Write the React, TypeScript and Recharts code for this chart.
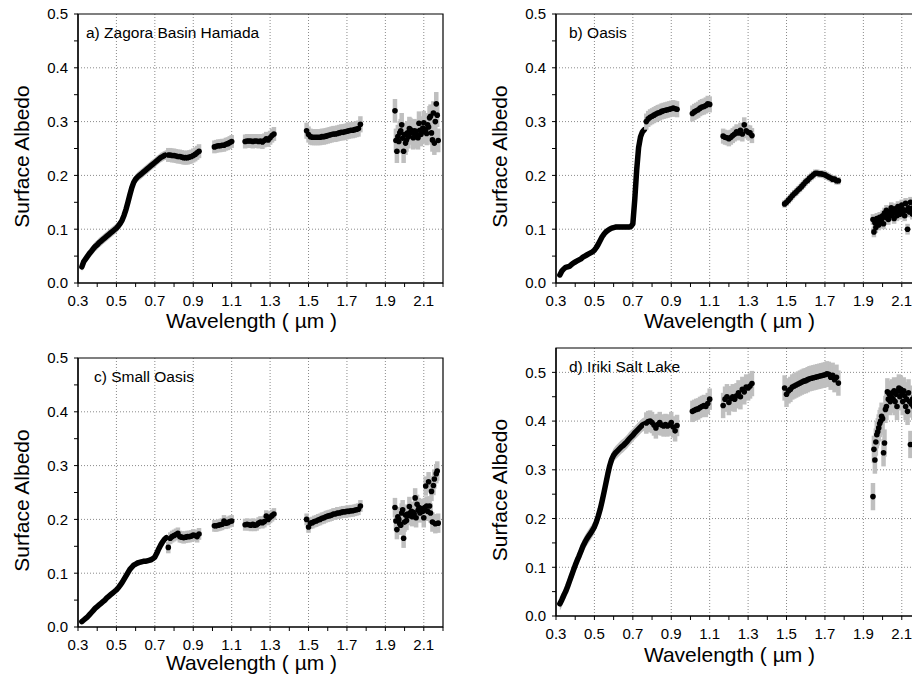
import {
  ComposedChart,
  Line,
  Area,
  Scatter,
  ErrorBar,
  XAxis,
  YAxis,
  CartesianGrid,
  ReferenceArea,
  Label,
} from "recharts";

// wavelength grids (µm), one per spectral window
const w1 = [
  0.32, 0.33, 0.34, 0.35, 0.36, 0.37, 0.38, 0.39, 0.4, 0.41,
  0.42, 0.43, 0.44, 0.45, 0.46, 0.47, 0.48, 0.49, 0.5, 0.51,
  0.52, 0.53, 0.54, 0.55, 0.56, 0.57, 0.58, 0.59, 0.6, 0.61,
  0.62, 0.63, 0.64, 0.65, 0.66, 0.67, 0.68, 0.69, 0.7, 0.71,
  0.72, 0.73, 0.74, 0.75, 0.76,
];
const w2 = [0.77, 0.78, 0.79, 0.8, 0.81, 0.82, 0.83, 0.84, 0.85, 0.86, 0.87, 0.88, 0.89, 0.9, 0.91, 0.92, 0.93];
const w3 = [1.01, 1.02, 1.03, 1.04, 1.05, 1.06, 1.07, 1.08, 1.09, 1.1];
const w4 = [1.17, 1.18, 1.19, 1.2, 1.21, 1.22, 1.23, 1.24, 1.25, 1.26, 1.27, 1.28, 1.29, 1.3, 1.31, 1.32];
const w5 = [
  1.49, 1.5, 1.51, 1.52, 1.53, 1.54, 1.55, 1.56, 1.57, 1.58,
  1.59, 1.6, 1.61, 1.62, 1.63, 1.64, 1.65, 1.66, 1.67, 1.68,
  1.69, 1.7, 1.71, 1.72, 1.73, 1.74, 1.75, 1.76, 1.77,
];
const w6 = [
  1.95, 1.955, 1.96, 1.965, 1.97, 1.975, 1.98, 1.985, 1.99, 1.995,
  2.0, 2.005, 2.01, 2.015, 2.02, 2.025, 2.03, 2.035, 2.04, 2.045,
  2.05, 2.055, 2.06, 2.065, 2.07, 2.075, 2.08, 2.085, 2.09, 2.095,
  2.1, 2.105, 2.11, 2.115, 2.12, 2.125, 2.13, 2.135, 2.14, 2.145,
  2.15, 2.155, 2.16, 2.165, 2.17, 2.175,
];

// a) Zagora Basin Hamada
const a1 = [
  0.030, 0.040, 0.045, 0.050, 0.055, 0.059, 0.064, 0.068, 0.071, 0.075,
  0.078, 0.081, 0.084, 0.087, 0.090, 0.093, 0.096, 0.099, 0.102, 0.106,
  0.111, 0.117, 0.126, 0.137, 0.150, 0.164, 0.177, 0.187, 0.193, 0.197,
  0.200, 0.203, 0.206, 0.209, 0.212, 0.215, 0.218, 0.221, 0.224, 0.227,
  0.230, 0.233, 0.235, 0.237, 0.238,
];
const a2 = [0.238, 0.238, 0.237, 0.237, 0.236, 0.235, 0.235, 0.234, 0.233, 0.233, 0.233, 0.234, 0.235, 0.237, 0.239, 0.242, 0.245];
const a3 = [0.253, 0.254, 0.255, 0.255, 0.256, 0.256, 0.258, 0.259, 0.261, 0.263];
const a4 = [0.263, 0.264, 0.264, 0.264, 0.263, 0.264, 0.264, 0.263, 0.264, 0.262, 0.265, 0.268, 0.266, 0.270, 0.274, 0.277];
const a5 = [
  0.283, 0.276, 0.272, 0.271, 0.271, 0.271, 0.271, 0.271, 0.272, 0.272,
  0.273, 0.274, 0.275, 0.276, 0.277, 0.277, 0.278, 0.279, 0.280, 0.280,
  0.281, 0.282, 0.283, 0.284, 0.284, 0.285, 0.286, 0.287, 0.295,
];
const a6 = [
  0.320, 0.265, 0.245, 0.272, 0.263, 0.279, 0.283, 0.294, 0.269, 0.245,
  0.276, 0.260, 0.266, 0.279, 0.272, 0.287, 0.285, 0.280, 0.279, 0.270,
  0.283, 0.272, 0.282, 0.275, 0.270, 0.297, 0.284, 0.276, 0.280, 0.288,
  0.298, 0.282, 0.285, 0.278, 0.294, 0.290, 0.307, 0.310, 0.279, 0.266,
  0.316, 0.260, 0.300, 0.333, 0.312, 0.265,
];
const aErr = [0.009, 0.013, 0.012, 0.013, 0.015, 0.022];

// b) Oasis
const b1 = [
  0.015, 0.022, 0.026, 0.029, 0.030, 0.031, 0.034, 0.037, 0.039, 0.041,
  0.043, 0.045, 0.048, 0.050, 0.052, 0.054, 0.056, 0.058, 0.061, 0.066,
  0.072, 0.079, 0.086, 0.091, 0.095, 0.098, 0.100, 0.102, 0.103, 0.104,
  0.104, 0.104, 0.104, 0.104, 0.104, 0.104, 0.104, 0.105, 0.110, 0.155,
  0.210, 0.252, 0.272, 0.281, 0.285,
];
const b2 = [0.300, 0.305, 0.308, 0.310, 0.312, 0.314, 0.316, 0.317, 0.319, 0.320, 0.321, 0.322, 0.323, 0.324, 0.325, 0.324, 0.323];
const b3 = [0.315, 0.318, 0.320, 0.322, 0.325, 0.327, 0.328, 0.330, 0.333, 0.332];
const b4 = [0.273, 0.271, 0.270, 0.268, 0.271, 0.274, 0.277, 0.281, 0.279, 0.284, 0.277, 0.294, 0.283, 0.280, 0.279, 0.274];
const b5 = [
  0.147, 0.150, 0.154, 0.158, 0.162, 0.166, 0.169, 0.173, 0.176, 0.180,
  0.184, 0.188, 0.191, 0.195, 0.198, 0.201, 0.204, 0.204, 0.203, 0.203,
  0.202, 0.201, 0.199, 0.197, 0.195, 0.193, 0.193, 0.190, 0.190,
];
const b6 = [
  0.118, 0.095, 0.112, 0.103, 0.120, 0.115, 0.108, 0.122, 0.112, 0.118,
  0.125, 0.110, 0.130, 0.122, 0.135, 0.127, 0.118, 0.132, 0.125, 0.140,
  0.128, 0.135, 0.120, 0.138, 0.130, 0.125, 0.142, 0.133, 0.128, 0.138,
  0.145, 0.130, 0.136, 0.125, 0.148, 0.135, 0.100, 0.140, 0.132, 0.150,
  0.138, 0.128, 0.140, 0.135, 0.145, 0.130,
];
const bErr = [0.005, 0.015, 0.015, 0.014, 0.007, 0.01];

// c) Small Oasis
const c1 = [
  0.010, 0.013, 0.016, 0.019, 0.023, 0.027, 0.031, 0.035, 0.038, 0.041,
  0.044, 0.047, 0.050, 0.054, 0.057, 0.060, 0.063, 0.066, 0.069, 0.073,
  0.078, 0.083, 0.089, 0.095, 0.101, 0.107, 0.111, 0.115, 0.117, 0.119,
  0.120, 0.121, 0.122, 0.122, 0.123, 0.124, 0.125, 0.127, 0.130, 0.137,
  0.145, 0.152, 0.158, 0.163, 0.166,
];
const c2 = [0.148, 0.165, 0.168, 0.170, 0.172, 0.174, 0.168, 0.167, 0.166, 0.167, 0.168, 0.168, 0.169, 0.171, 0.170, 0.168, 0.173];
const c3 = [0.188, 0.188, 0.189, 0.190, 0.191, 0.197, 0.193, 0.194, 0.196, 0.197];
const c4 = [0.190, 0.191, 0.190, 0.189, 0.191, 0.189, 0.190, 0.193, 0.195, 0.194, 0.196, 0.206, 0.200, 0.204, 0.207, 0.210];
const c5 = [
  0.200, 0.186, 0.193, 0.194, 0.196, 0.197, 0.199, 0.200, 0.202, 0.203,
  0.205, 0.206, 0.207, 0.208, 0.210, 0.210, 0.212, 0.212, 0.213, 0.214,
  0.214, 0.215, 0.215, 0.216, 0.216, 0.217, 0.218, 0.219, 0.225,
];
const c6 = [
  0.222, 0.197, 0.181, 0.205, 0.200, 0.192, 0.189, 0.212, 0.218, 0.165,
  0.195, 0.208, 0.198, 0.210, 0.207, 0.224, 0.212, 0.215, 0.205, 0.213,
  0.210, 0.240, 0.203, 0.228, 0.217, 0.222, 0.212, 0.220, 0.218, 0.215,
  0.203, 0.222, 0.262, 0.225, 0.215, 0.270, 0.225, 0.212, 0.252, 0.195,
  0.263, 0.275, 0.192, 0.285, 0.290, 0.193,
];
const cErr = [0.005, 0.011, 0.011, 0.011, 0.011, 0.018];

// d) Iriki Salt Lake
const d1 = [
  0.025, 0.033, 0.042, 0.050, 0.060, 0.071, 0.082, 0.093, 0.104, 0.114,
  0.123, 0.133, 0.143, 0.151, 0.158, 0.164, 0.170, 0.176, 0.183, 0.193,
  0.205, 0.219, 0.236, 0.254, 0.273, 0.292, 0.309, 0.322, 0.330, 0.335,
  0.339, 0.343, 0.347, 0.350, 0.354, 0.358, 0.363, 0.367, 0.371, 0.376,
  0.380, 0.384, 0.388, 0.392, 0.394,
];
const d2 = [0.396, 0.399, 0.400, 0.397, 0.392, 0.386, 0.393, 0.397, 0.392, 0.390, 0.393, 0.390, 0.392, 0.397, 0.388, 0.380, 0.391];
const d3 = [0.420, 0.422, 0.424, 0.425, 0.428, 0.430, 0.432, 0.430, 0.436, 0.445];
const d4 = [0.432, 0.445, 0.450, 0.438, 0.446, 0.450, 0.445, 0.452, 0.458, 0.450, 0.465, 0.460, 0.470, 0.468, 0.472, 0.477];
const d5 = [
  0.468, 0.455, 0.462, 0.465, 0.470, 0.472, 0.474, 0.476, 0.478, 0.480,
  0.482, 0.483, 0.485, 0.487, 0.488, 0.489, 0.490, 0.491, 0.492, 0.493,
  0.494, 0.495, 0.497, 0.496, 0.490, 0.494, 0.485, 0.490, 0.478,
];
const d6 = [
  0.245, 0.342, 0.320, 0.357, 0.372, 0.378, 0.386, 0.395, 0.400, 0.410,
  0.405, 0.335, 0.355, 0.424, 0.430, 0.460, 0.445, 0.455, 0.440, 0.450,
  0.458, 0.445, 0.462, 0.440, 0.455, 0.430, 0.462, 0.468, 0.450, 0.465,
  0.455, 0.440, 0.462, 0.452, 0.430, 0.445, 0.420, 0.458, 0.440, 0.352,
  0.435, 0.445, 0.430, 0.450, 0.440, 0.445,
];
const dErr = [0.014, 0.022, 0.022, 0.026, 0.026, 0.028];

// axes
const xTicks = [0.3, 0.4, 0.5, 0.6, 0.7, 0.8, 0.9, 1.0, 1.1, 1.2, 1.3, 1.4, 1.5, 1.6, 1.7, 1.8, 1.9, 2.0, 2.1, 2.2];
const yTicks = [0, 0.05, 0.1, 0.15, 0.2, 0.25, 0.3, 0.35, 0.4, 0.45, 0.5];
const xGrid = [0.5, 0.7, 0.9, 1.1, 1.3, 1.5, 1.7, 1.9, 2.1];

const FONT = '"Liberation Sans", Arial, Helvetica, sans-serif';
const GREY = "#bfbfbf";

const grids = [w1, w2, w3, w4, w5, w6];

function buildSegs(vals: number[][], errs: number[]) {
  return grids.map((ws, s) =>
    ws.map((w, i) => ({ w, v: vals[s][i], e: errs[s], band: [vals[s][i] - errs[s], vals[s][i] + errs[s]] }))
  );
}

const fmtX = (v: number) => (Math.round(v * 10) % 2 === 1 ? v.toFixed(1) : "");
const fmtY = (v: number) => (Math.round(v * 100) % 10 === 0 ? v.toFixed(1) : "");

const dot = (p: any) => <circle cx={p.cx} cy={p.cy} r={2.8} fill="#000" />;

type PanelProps = {
  title: string;
  vals: number[][];
  errs: number[];
  yMax: number;
  hGrid: number[];
  left: number;
  top: number;
  width: number;
  margin: { top: number; right: number; bottom: number; left: number };
  xAxisHeight: number;
  titleDx: number;
  xTitleDy: number;
};

function Panel({ title, vals, errs, yMax, hGrid, left, top, width, margin, xAxisHeight, titleDx, xTitleDy }: PanelProps) {
  const segs = buildSegs(vals, errs);
  return (
    <div style={{ position: "absolute", left, top }}>
      <ComposedChart width={width} height={339} data={segs[0]} margin={margin} style={{ overflow: "visible" }}>
        <CartesianGrid
          horizontalValues={hGrid}
          verticalValues={xGrid}
          stroke="#8a8a8a"
          strokeDasharray="1 2"
        />
        <XAxis
          type="number"
          dataKey="w"
          domain={[0.3, 2.2]}
          ticks={xTicks}
          interval={0}
          tickFormatter={fmtX}
          tickSize={4}
          tickMargin={8}
          height={xAxisHeight}
          axisLine={{ stroke: "#000", strokeWidth: 1.2 }}
          tickLine={{ stroke: "#000" }}
          tick={{ fill: "#000", fontSize: 15 }}
          allowDataOverflow
        >
          <Label
            content={(p: any) => (
              <text
                x={p.viewBox.x + p.viewBox.width / 2 - 9}
                y={p.viewBox.y + xTitleDy}
                textAnchor="middle"
                fontSize={21}
                fill="#000"
              >
                Wavelength ( µm )
              </text>
            )}
          />
        </XAxis>
        <YAxis
          type="number"
          domain={[0, yMax]}
          ticks={yTicks}
          interval={0}
          tickFormatter={fmtY}
          tickSize={4}
          tickMargin={6}
          width={78}
          axisLine={{ stroke: "#000", strokeWidth: 1.2 }}
          tickLine={{ stroke: "#000" }}
          tick={{ fill: "#000", fontSize: 15 }}
          allowDataOverflow
        >
          <Label
            content={(p: any) => {
              const cx = p.viewBox.x + p.viewBox.width - 49;
              const cy = p.viewBox.y + p.viewBox.height / 2 + 8;
              return (
                <text
                  x={cx}
                  y={cy}
                  transform={`rotate(-90 ${cx} ${cy})`}
                  textAnchor="middle"
                  fontSize={21}
                  fill="#000"
                >
                  Surface Albedo
                </text>
              );
            }}
          />
        </YAxis>
        <Area
          dataKey="band"
          type="linear"
          stroke="none"
          fill={GREY}
          fillOpacity={1}
          activeDot={false}
          isAnimationActive={false}
        />
        <Line
          dataKey="v"
          type="linear"
          stroke="#000"
          strokeWidth={5.5}
          strokeLinejoin="round"
          strokeLinecap="round"
          dot={false}
          activeDot={false}
          isAnimationActive={false}
        />
        {segs.slice(1).map((seg, i) => (
          <Scatter key={i} data={seg} dataKey="v" shape={dot} isAnimationActive={false}>
            <ErrorBar dataKey="e" direction="y" width={0} stroke={GREY} strokeWidth={4.5} />
          </Scatter>
        ))}
        <ReferenceArea
          x1={0.3}
          x2={2.2}
          y1={0}
          y2={yMax}
          fill="none"
          fillOpacity={0}
          stroke="#000"
          strokeWidth={1.2}
          label={(p: any) => (
            <text x={p.viewBox.x + titleDx} y={p.viewBox.y + 24} fontSize={15.5} fill="#000">
              {title}
            </text>
          )}
        />
      </ComposedChart>
    </div>
  );
}

export default function App() {
  return (
    <div
      style={{
        position: "fixed",
        left: 0,
        top: 0,
        width: 912,
        height: 678,
        overflow: "hidden",
        background: "#fff",
        fontFamily: FONT,
      }}
    >
      <Panel
        title="a) Zagora Basin Hamada"
        vals={[a1, a2, a3, a4, a5, a6]}
        errs={aErr}
        yMax={0.5}
        hGrid={[0.1, 0.2, 0.3, 0.4]}
        left={0}
        top={0}
        width={456}
        margin={{ top: 14, right: 13, bottom: 0, left: 0 }}
        xAxisHeight={56}
        titleDx={8}
        xTitleDy={45}
      />
      <Panel
        title="b) Oasis"
        vals={[b1, b2, b3, b4, b5, b6]}
        errs={bErr}
        yMax={0.5}
        hGrid={[0.1, 0.2, 0.3, 0.4]}
        left={456}
        top={0}
        width={478}
        margin={{ top: 14, right: 13, bottom: 0, left: 22 }}
        xAxisHeight={56}
        titleDx={13}
        xTitleDy={45}
      />
      <Panel
        title="c) Small Oasis"
        vals={[c1, c2, c3, c4, c5, c6]}
        errs={cErr}
        yMax={0.5}
        hGrid={[0.1, 0.2, 0.3, 0.4]}
        left={0}
        top={339}
        width={456}
        margin={{ top: 19, right: 13, bottom: 0, left: 0 }}
        xAxisHeight={51}
        titleDx={16}
        xTitleDy={43}
      />
      <Panel
        title="d) Iriki Salt Lake"
        vals={[d1, d2, d3, d4, d5, d6]}
        errs={dErr}
        yMax={0.55}
        hGrid={[0.1, 0.2, 0.3, 0.4, 0.5]}
        left={456}
        top={339}
        width={478}
        margin={{ top: 9, right: 13, bottom: 0, left: 22 }}
        xAxisHeight={62}
        titleDx={13}
        xTitleDy={46}
      />
    </div>
  );
}
